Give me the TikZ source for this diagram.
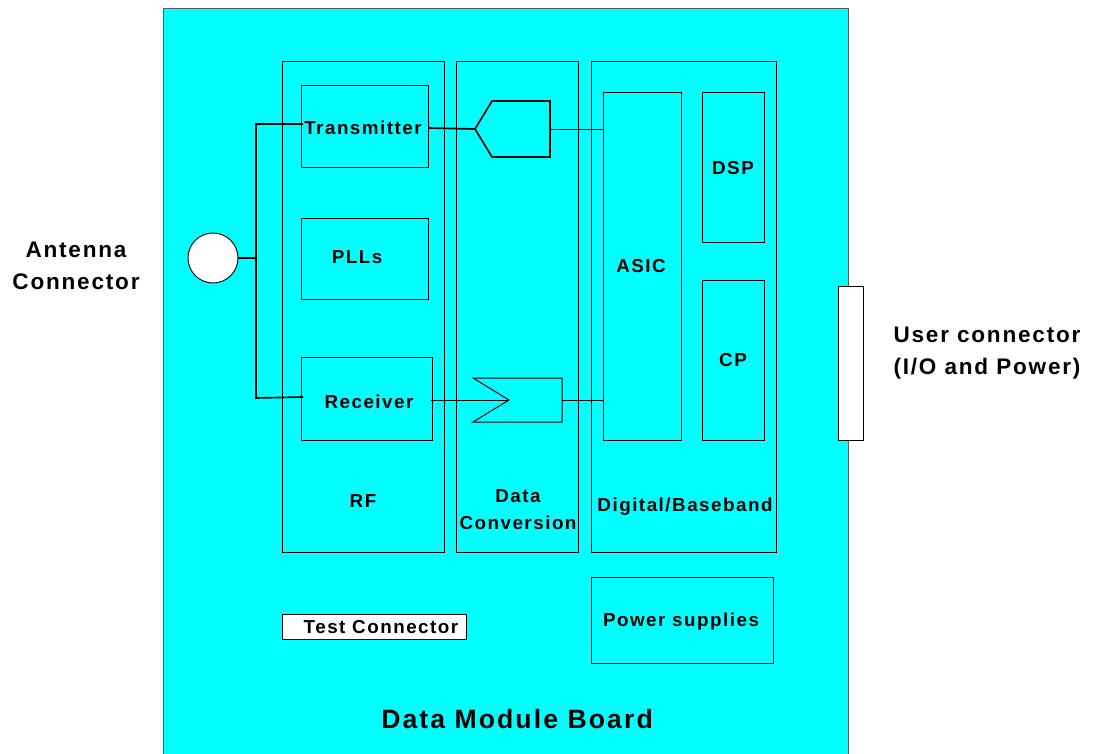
\documentclass[tikz,border=0pt]{standalone}
\usepackage{fontspec}
\setmainfont[LetterSpace=8]{Liberation Sans}
\usetikzlibrary{positioning}
\definecolor{boardcyan}{RGB}{0,255,255}

\begin{document}
\begin{tikzpicture}[
    x=0.75pt, y=-0.75pt,
    sz/.style 2 args={minimum width=#1*0.75pt, minimum height=#2*0.75pt},
    box/.style={draw, line width=0.7pt, inner sep=0pt, outer sep=0pt},
    conn/.style={box, fill=white},
    wire/.style={line width=1.25pt, line join=miter},
    thinwire/.style={line width=0.75pt, line join=miter},
    lbl/.style={font=\bfseries\fontsize{14.1}{20}\selectfont, align=center, inner sep=0pt},
    biglbl/.style={font=\bfseries\fontsize{16.9}{24}\selectfont, inner sep=0pt},
    titlelbl/.style={font=\bfseries\fontsize{19.9}{24}\selectfont, inner sep=0pt}
]
\useasboundingbox (0,0) rectangle (1095,753);

% board and blocks
\node[box, fill=boardcyan, draw=black!65, sz={685}{750}] (board) at (505.5,383) {};
\node[box, sz={162}{491}] (rf) at (363,306.5) {};
\node[box, sz={122}{491}] (dconv) at (517,306.5) {};
\node[box, sz={185}{491}] (digital) at (683.5,306.5) {};
\node[box, sz={127}{82}] (tx) at (364.5,126) {};
\node[box, sz={127}{81}] (pll) at (364.5,258.5) {};
\node[box, sz={131}{83}] (rx) at (366.5,398.5) {};
\node[box, sz={78}{348}] (asic) at (642,266) {};
\node[box, sz={62}{150}] (dsp) at (733,167) {};
\node[box, sz={62}{160}] (cp) at (733,360) {};
\node[box, sz={182}{86}] (power) at (682,620) {};
\node[conn, sz={184}{25}] (test) at (374,626.5) {};
\node[conn, sz={25}{154}] (user) at (850.5,363) {};
\node[conn, circle, minimum size=37.5pt] (ant) at (213,258) {};

% converters
\draw[wire] (475,129) coordinate (dacin) -- (492,101) -- (550,101) -- (550,157) -- (492,157) -- cycle;
\coordinate (dacout) at (550,129);
\draw[thinwire] (473,378) -- (562,378) -- (562,422) -- (473,422) -- (509,400) coordinate (adcin) -- cycle;
\coordinate (adcout) at (562,400);

% wires
\coordinate (bus) at (256,258);
\coordinate (txin) at (303,124);
\coordinate (rxin) at (303,397);
\coordinate (txout) at (428,128);
\coordinate (rxout) at (431,400);
\coordinate (bustop) at (256,124);
\coordinate (busbot) at (256,398);
\coordinate (asictop) at (603,129);
\coordinate (asicbot) at (603,400);
\draw[wire] (ant) -- (bus);
\draw[wire] (txin) -- (bustop) -- (busbot) -- (rxin);
\draw[wire] (txout) -- (dacin);
\draw[thinwire] (dacout) -- (asictop);
\draw[thinwire] (rxout) -- (adcin);
\draw[thinwire] (adcout) -- (asicbot);

% labels
\node[lbl] (txlbl) at (363,128) {Transmitter};
\node[lbl] (plllbl) at (357,257) {PLLs};
\node[lbl] (rxlbl) at (369,402) {Receiver};
\node[lbl] (rflbl) at (363,501) {RF};
\node[lbl] (dconvlbl) at (518,509.5) {Data\\Conversion};
\node[lbl] (digitallbl) at (685,506.5) {Digital/Baseband};
\node[lbl] (asiclbl) at (641,266) {ASIC};
\node[lbl] (dsplbl) at (733,168) {DSP};
\node[lbl] (cplbl) at (733,360) {CP};
\node[lbl] (powerlbl) at (681,621.5) {Power supplies};
\node[lbl] (testlbl) at (381,627) {Test Connector};
\node[titlelbl] (boardlbl) at (517,719) {Data Module Board};
\node[biglbl, align=center] (antlbl) at (76,266) {Antenna\\Connector};
\node[biglbl, align=left] (userlbl) at (987,353) {User connector\\(I/O and Power)};
\end{tikzpicture}
\end{document}
